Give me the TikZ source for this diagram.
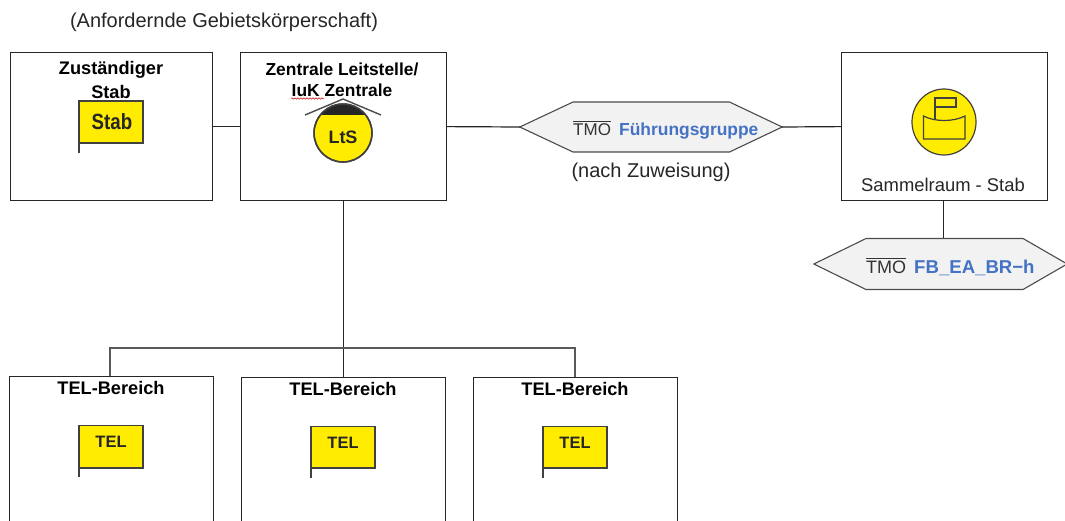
\documentclass[tikz,border=0pt]{standalone}
\usepackage{fontspec}
\setmainfont{Liberation Sans}
\usetikzlibrary{decorations.pathmorphing}
\definecolor{lineC}{HTML}{262626}
\definecolor{flagY}{HTML}{FFEC00}
\definecolor{linkB}{HTML}{4472C4}
\definecolor{hexF}{HTML}{F2F2F2}
\newcommand{\tmo}{\leavevmode\vbox{\hrule height .9pt \kern 1.5pt \hbox{TMO}}}
\newcommand{\fs}[1]{\fontsize{#1}{#1}\selectfont}
\tikzset{
  box/.style={draw=lineC,line width=1.2pt,fill=white,rectangle,inner sep=0pt,anchor=north west},
  conn/.style={draw=lineC,line width=1.2pt},
  title/.style={font=\fs{18.2}\bfseries,inner sep=0pt,text=black},
  plain/.style={font=\fs{20},inner sep=0pt,text=black!85},
  flagT/.style={font=\bfseries,inner sep=0pt,text=black!85},
  flagS/.style={draw=black!75,line width=1.5pt,fill=flagY},
  hexS/.style={draw=black!70,line width=1.1pt,fill=hexF},
  anchorbox/.style={inner sep=0pt,rectangle},
}
\begin{document}
\begin{tikzpicture}[x=1pt,y=-1pt]
\useasboundingbox (0,0) rectangle (1065,520);
% boxes
\node[box,minimum width=202pt,minimum height=148pt] (stab) at (10,52) {};
\node[box,minimum width=206pt,minimum height=148pt] (lts) at (240,52) {};
\node[box,minimum width=206pt,minimum height=148pt] (sammel) at (841,52) {};
\node[box,minimum width=204pt,minimum height=160pt] (tel1) at (9,376) {};
\node[box,minimum width=204pt,minimum height=160pt] (tel2) at (241,377) {};
\node[box,minimum width=204pt,minimum height=160pt] (tel3) at (473,377) {};
% hexagon holders
\node[anchorbox,minimum width=262pt,minimum height=50pt] (hexa) at (651,127) {};
\node[anchorbox,minimum width=253pt,minimum height=51pt] (hexb) at (940.5,264) {};
\draw[hexS] (hexa.west) -- (573,102) -- (729.5,102) -- (hexa.east) -- (729.5,152) -- (573,152) -- cycle;
\draw[hexS] (hexb.west) -- (866,238.5) -- (1023,238.5) -- (hexb.east) -- (1023,289.5) -- (866,289.5) -- cycle;
% bus
\coordinate (busL) at (110,348);
\coordinate (busM) at (343,348);
\coordinate (busR) at (575,348);
\coordinate (t1) at (110,376);
\coordinate (t3) at (575,377);
% connectors
\draw[conn] (stab.east) -- (lts.west);
\draw[conn] (lts.east) -- (hexa.west);
\draw[conn] (hexa.east) -- (sammel.west);
\draw[conn] (sammel.south -| 943.5,0) -- (hexb.north -| 943.5,0);
\draw[conn] (lts.south) -- (tel2.north);
\draw[draw=black!65,line width=1.1pt] (t1) -- (busL) -- (busR) -- (t3);
% texts
\node[plain] (head) at (224,22) {(Anfordernde Gebietskörperschaft)};
\node[title] (s1) at (111,70) {Zuständiger};
\node[title] (s2) at (111,92) {Stab};
\node[title,font=\fs{17.4}\bfseries] (l1) at (342,69) {Zentrale Leitstelle/};
\node[title,font=\fs{17.4}\bfseries] (l2) at (342,90) {IuK Zentrale};
\draw[red!80!black,line width=.5pt,decorate,decoration={snake,amplitude=.7pt,segment length=3pt}] (291,98.5) -- (324,98.5);
\node[plain] (nz) at (651,172) {(nach Zuweisung)};
\node[plain,font=\fs{18.4}] (sr) at (943,185) {Sammelraum - Stab};
\node[title] (b1) at (111,388) {TEL-Bereich};
\node[title] (b2) at (343,389) {TEL-Bereich};
\node[title] (b3) at (575,389) {TEL-Bereich};
\node[inner sep=0pt,font=\fs{17},text=black!80,anchor=base west] (ta) at (573,135) {\tmo};
\node[inner sep=0pt,font=\fs{17.4}\bfseries,text=linkB,anchor=base west] (tb) at (619,135) {Führungsgruppe};
\node[inner sep=0pt,font=\fs{18},text=black!80,anchor=base west] (tc) at (866,273) {\tmo};
\node[inner sep=0pt,font=\fs{18.6}\bfseries,text=linkB,anchor=base west] (td) at (914,273) {FB\_EA\_BR−h};
% Stab flag
\draw[flagS] (79,101) rectangle (143,143);
\draw[draw=black!75,line width=1.5pt] (79,143) -- (79,153);
\node[flagT,font=\fs{22}\bfseries,xscale=.85] (fs) at (112,122) {Stab};
% TEL flags
\draw[flagS] (79,425.5) rectangle (143,468);
\draw[draw=black!75,line width=1.5pt] (79,468) -- (79,477);
\node[flagT,font=\fs{16.5}\bfseries] (f1) at (111,442) {TEL};
\draw[flagS] (311,426.5) rectangle (375,468);
\draw[draw=black!75,line width=1.5pt] (311,468) -- (311,478);
\node[flagT,font=\fs{16.5}\bfseries] (f2) at (343,443) {TEL};
\draw[flagS] (543,426.5) rectangle (607,468);
\draw[draw=black!75,line width=1.5pt] (543,468) -- (543,478);
\node[flagT,font=\fs{16.5}\bfseries] (f3) at (575,443) {TEL};
% LtS symbol
\draw[flagS] (343,133) circle (29);
\begin{scope}
\clip (343,133) circle (29);
\fill[black!85] (310,100) rectangle (376,115);
\end{scope}
\draw[draw=black!75,line width=1.5pt] (343,133) circle (29);
\draw[draw=black!70,line width=1.4pt] (305,115) -- (343,99) -- (381,115);
\node[flagT,font=\fs{18}\bfseries] (fl) at (343,137) {LtS};
% Sammelraum symbol
\draw[flagS,line width=1.2pt] (944,122) ellipse (32 and 33);
\draw[draw=black!75,line width=1.2pt] (923.5,116) .. controls (935,122) and (953,122) .. (965,116) -- (965,139) -- (923.5,139) -- cycle;
\draw[draw=black!75,line width=1.2pt] (935,118.5) -- (935,98) -- (956,98) -- (956,107) -- (935,107);
\end{tikzpicture}
\end{document}
